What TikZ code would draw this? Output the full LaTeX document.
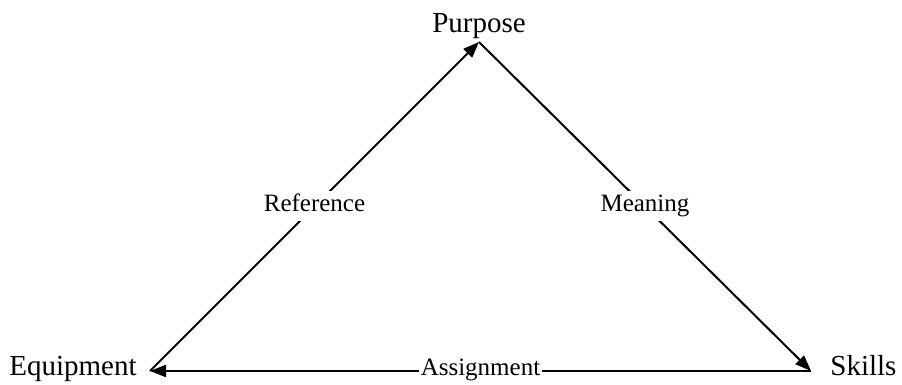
\documentclass[tikz,border=0pt]{standalone}
\usepackage{fontspec}
\setmainfont{Liberation Serif}
\usetikzlibrary{arrows.meta}
\begin{document}
\begin{tikzpicture}[x=0.5pt,y=-0.5pt,>={Triangle[length=8pt,width=6pt]},
  corner/.style={inner sep=0pt,text height=0.68em,text depth=0.22em,font=\fontsize{14.5}{17}\selectfont},
  lbl/.style={fill=white,inner xsep=1pt,inner ysep=3pt,text height=0.68em,text depth=0.22em,font=\fontsize{12.5}{15}\selectfont}]
\useasboundingbox (0,0) rectangle (902,385);
\node[corner,anchor=south,inner ysep=2.5pt] (P) at (479,42) {Purpose};
\node[corner,anchor=east,inner xsep=6.5pt] (E) at (150,371) {Equipment};
\node[corner,anchor=west,inner xsep=9.5pt] (S) at (811,371) {Skills};
\draw[->,line width=1pt] (E.east) to node[lbl,midway]{Reference} (P.south);
\draw[->,line width=1pt] (P.south) to node[lbl,midway]{Meaning} (S.west);
\draw[->,line width=1pt] (S.west) to node[lbl,midway]{Assignment} (E.east);
\end{tikzpicture}
\end{document}
